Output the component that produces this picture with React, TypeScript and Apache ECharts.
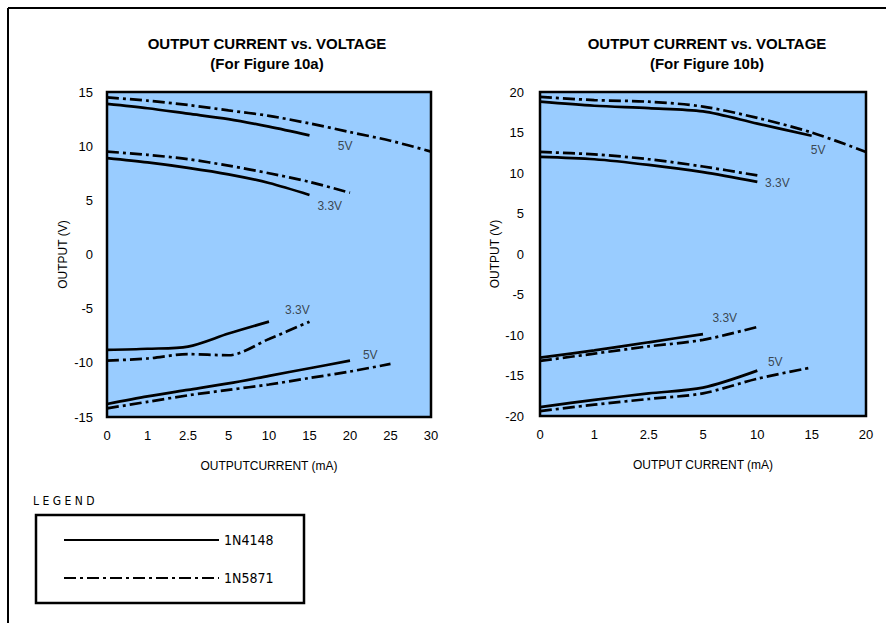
import React, { useEffect, useRef } from "react";
import * as echarts from "echarts";

// Category labels (output current, mA) – equally spaced on the axis
const currentsA = ["0", "1", "2.5", "5", "10", "15", "20", "25", "30"];
const currentsB = ["0", "1", "2.5", "5", "10", "15", "20"];

// Figure 10a – values per current index (V)
const a5V_1N4148 = [13.9, 13.5, 13.0, 12.5, 11.8, 11.0];
const a5V_1N5871 = [14.5, 14.2, 13.8, 13.3, 12.8, 12.1, 11.3, 10.5, 9.5];
const a33V_1N4148 = [8.9, 8.5, 8.0, 7.4, 6.6, 5.5];
const a33V_1N5871 = [9.5, 9.2, 8.8, 8.2, 7.5, 6.7, 5.7];
const aN33V_1N4148 = [-8.8, -8.7, -8.5, -7.3, -6.2];
const aN33V_1N5871 = [-9.8, -9.6, -9.2, -9.3, -7.8, -6.2];
const aN5V_1N4148 = [-13.8, -13.1, -12.5, -11.9, -11.2, -10.5, -9.8];
const aN5V_1N5871 = [-14.2, -13.6, -13.0, -12.5, -12.0, -11.4, -10.8, -10.1];

// Figure 10b
const b5V_1N4148 = [18.8, 18.3, 18.0, 17.6, 16.1, 14.6];
const b5V_1N5871 = [19.4, 19.0, 18.8, 18.2, 16.8, 15.0, 12.6];
const b33V_1N4148 = [12.0, 11.7, 11.0, 10.1, 8.9];
const b33V_1N5871 = [12.6, 12.3, 11.7, 10.8, 9.7];
const bN33V_1N4148 = [-12.8, -11.9, -10.9, -9.9];
const bN33V_1N5871 = [-13.2, -12.3, -11.4, -10.6, -9.0];
const bN5V_1N4148 = [-18.9, -18.0, -17.2, -16.5, -14.4];
const bN5V_1N5871 = [-19.4, -18.6, -17.9, -17.2, -15.4, -14.0];

// Curve labels: [current index, voltage, text]
const labelsA: [number, number, string][] = [
  [5.88, 10.0, "5V"],
  [5.5, 4.5, "3.3V"],
  [4.7, -5.15, "3.3V"],
  [6.5, -9.3, "5V"],
];
const labelsB: [number, number, string][] = [
  [5.12, 12.8, "5V"],
  [4.37, 8.8, "3.3V"],
  [3.4, -7.9, "3.3V"],
  [4.33, -13.3, "5V"],
];

const yTicksA = { min: -15, max: 15, interval: 5 };
const yTicksB = { min: -20, max: 20, interval: 5 };

const FONT = "'Liberation Sans', Arial, sans-serif";
const NARROW = "'Liberation Sans Narrow', 'DejaVu Sans Condensed', sans-serif";
const DASHDOT = [12, 4, 3, 4];

const toPts = (arr: number[]) => arr.map((v, i) => [i, v]);

export default function App() {
  const ref = useRef<HTMLDivElement>(null);
  useEffect(() => {
    document.body.style.margin = "0";
    if (!ref.current) return;
    const chart = echarts.init(ref.current, undefined, { renderer: "svg" });

    const lineSeries = (
      name: string,
      data: number[],
      idx: number,
      dashed: boolean
    ) => ({
      type: "line",
      name,
      xAxisIndex: idx,
      yAxisIndex: idx,
      data: toPts(data),
      symbol: "none",
      smooth: 0.3,
      itemStyle: { color: "#000" },
      lineStyle: {
        color: "#000",
        width: 2.7,
        type: dashed ? DASHDOT : "solid",
      },
      z: 3,
    });

    const labelSeries = (labels: [number, number, string][], idx: number) => ({
      type: "scatter",
      xAxisIndex: idx,
      yAxisIndex: idx,
      symbolSize: 0,
      silent: true,
      data: labels.map((l) => ({ value: [l[0], l[1]], name: l[2] })),
      label: {
        show: true,
        position: "inside",
        formatter: (p: any) => p.name,
        color: "#222",
        fontFamily: FONT,
        fontSize: 12,
      },
      z: 4,
    });

    const xAxis = (idx: number, cats: string[], name: string) => ({
      type: "value",
      gridIndex: idx,
      min: 0,
      max: cats.length - 1,
      interval: 1,
      axisLine: { show: false },
      axisTick: { show: false },
      splitLine: { show: false },
      axisLabel: {
        formatter: (v: number) => cats[Math.round(v)] ?? "",
        color: "#000",
        fontFamily: FONT,
        fontSize: 13,
        margin: 12,
      },
      name,
      nameLocation: "middle",
      nameGap: 43,
      nameTextStyle: { color: "#000", fontFamily: FONT, fontSize: 12 },
    });

    const yAxis = (idx: number, t: any, margin: number, gap: number) => ({
      type: "value",
      gridIndex: idx,
      min: t.min,
      max: t.max,
      interval: t.interval,
      axisLine: { show: false },
      axisTick: { show: false },
      splitLine: { show: false },
      axisLabel: {
        color: "#000",
        fontFamily: FONT,
        fontSize: 13,
        margin,
      },
      name: "OUTPUT (V)",
      nameLocation: "middle",
      nameGap: gap,
      nameTextStyle: { color: "#000", fontFamily: FONT, fontSize: 12 },
    });

    const titleStyle = {
      fontFamily: FONT,
      fontWeight: "bold",
      fontSize: 15,
      lineHeight: 20,
      color: "#000",
    };

    chart.setOption({
      animation: false,
      backgroundColor: "#fff",
      title: [
        {
          text: "OUTPUT CURRENT vs. VOLTAGE\n(For Figure 10a)",
          left: 262,
          top: 28,
          textAlign: "center",
          textStyle: titleStyle,
        },
        {
          text: "OUTPUT CURRENT vs. VOLTAGE\n(For Figure 10b)",
          left: 702,
          top: 28,
          textAlign: "center",
          textStyle: titleStyle,
        },
      ],
      grid: [
        {
          left: 107,
          top: 92,
          width: 324,
          height: 325,
          show: true,
          backgroundColor: "#99CCFF",
          borderColor: "#000",
          borderWidth: 2.5,
          z: 0,
        },
        {
          left: 540,
          top: 92,
          width: 326,
          height: 324,
          show: true,
          backgroundColor: "#99CCFF",
          borderColor: "#000",
          borderWidth: 2.5,
          z: 0,
        },
      ],
      xAxis: [
        xAxis(0, currentsA, "OUTPUTCURRENT (mA)"),
        xAxis(1, currentsB, "OUTPUT CURRENT (mA)"),
      ],
      yAxis: [yAxis(0, yTicksA, 14, 38), yAxis(1, yTicksB, 16, 31)],
      legend: {
        data: ["1N4148", "1N5871"],
        orient: "vertical",
        left: 58,
        top: 528,
        itemWidth: 155,
        itemHeight: 14,
        itemGap: 24,
        itemStyle: { opacity: 0 },
        textStyle: { fontFamily: NARROW, fontSize: 14, color: "#000" },
        selectedMode: false,
      },
      series: [
        lineSeries("1N4148", a5V_1N4148, 0, false),
        lineSeries("1N5871", a5V_1N5871, 0, true),
        lineSeries("1N4148", a33V_1N4148, 0, false),
        lineSeries("1N5871", a33V_1N5871, 0, true),
        lineSeries("1N4148", aN33V_1N4148, 0, false),
        lineSeries("1N5871", aN33V_1N5871, 0, true),
        lineSeries("1N4148", aN5V_1N4148, 0, false),
        lineSeries("1N5871", aN5V_1N5871, 0, true),
        lineSeries("1N4148", b5V_1N4148, 1, false),
        lineSeries("1N5871", b5V_1N5871, 1, true),
        lineSeries("1N4148", b33V_1N4148, 1, false),
        lineSeries("1N5871", b33V_1N5871, 1, true),
        lineSeries("1N4148", bN33V_1N4148, 1, false),
        lineSeries("1N5871", bN33V_1N5871, 1, true),
        lineSeries("1N4148", bN5V_1N4148, 1, false),
        lineSeries("1N5871", bN5V_1N5871, 1, true),
        labelSeries(labelsA, 0),
        labelSeries(labelsB, 1),
      ],
      graphic: [
        {
          type: "line",
          shape: { x1: 8, y1: 8, x2: 886, y2: 8 },
          style: { stroke: "#000", lineWidth: 2 },
        },
        {
          type: "line",
          shape: { x1: 8, y1: 8, x2: 8, y2: 623 },
          style: { stroke: "#000", lineWidth: 2 },
        },
        {
          type: "text",
          left: 33,
          top: 495,
          style: {
            text: "L E G E N D",
            fontFamily: NARROW,
            fontSize: 12,
            fill: "#000",
          },
        },
        {
          type: "rect",
          shape: { x: 36, y: 515, width: 268, height: 88 },
          style: { stroke: "#000", lineWidth: 2.5, fill: "none" },
        },
      ],
    });
    return () => chart.dispose();
  }, []);
  return <div ref={ref} style={{ width: 886, height: 623 }} />;
}
